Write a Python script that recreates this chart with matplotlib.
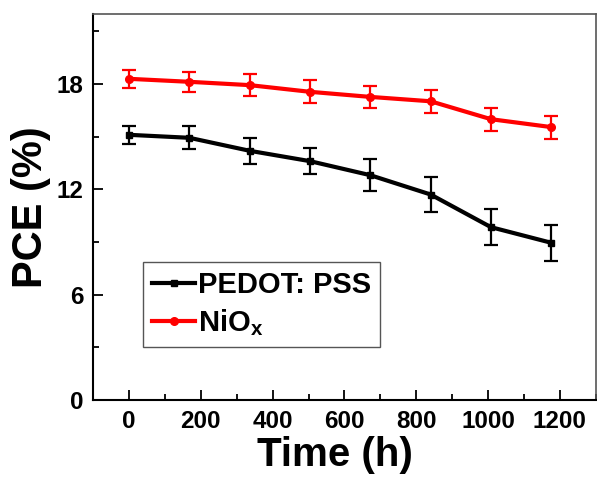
import matplotlib

matplotlib.use("Agg")
import matplotlib.pyplot as plt
from matplotlib.ticker import MultipleLocator

time_h = [0, 168, 336, 504, 672, 840, 1008, 1176]

pedot_pce = [15.11, 14.94, 14.20, 13.61, 12.81, 11.71, 9.85, 8.96]
pedot_err = [0.51, 0.66, 0.73, 0.76, 0.90, 0.99, 1.02, 1.04]

nio_pce = [18.30, 18.13, 17.94, 17.56, 17.27, 17.02, 16.00, 15.55]
nio_err = [0.50, 0.57, 0.64, 0.65, 0.63, 0.66, 0.66, 0.65]

plt.rcParams["font.family"] = ["Liberation Sans", "DejaVu Sans"]
plt.rcParams["font.weight"] = "bold"
plt.rcParams["mathtext.fontset"] = "custom"
plt.rcParams["mathtext.rm"] = "Liberation Sans:bold"
plt.rcParams["mathtext.it"] = "Liberation Sans:bold"
plt.rcParams["mathtext.bf"] = "Liberation Sans:bold"

fig = plt.figure(figsize=(5.97, 4.78), dpi=100)
ax = fig.add_axes([0.156, 0.163, 0.842, 0.808])

ax.errorbar(time_h, pedot_pce, yerr=pedot_err, color="black", linewidth=3,
            marker="s", markersize=5, elinewidth=1.6, capsize=5, capthick=1.6,
            label="PEDOT: PSS")
ax.errorbar(time_h, nio_pce, yerr=nio_err, color="red", linewidth=3,
            marker="o", markersize=5.5, elinewidth=1.6, capsize=5, capthick=1.6,
            label="NiO$_\\mathregular{x}$")

ax.set_xlim(-100, 1300)
ax.set_ylim(0, 22)
ax.xaxis.set_major_locator(MultipleLocator(200))
ax.xaxis.set_minor_locator(MultipleLocator(100))
ax.yaxis.set_major_locator(MultipleLocator(6))
ax.yaxis.set_minor_locator(MultipleLocator(3))

ax.tick_params(which="both", direction="in", top=False, right=False, width=1.3,
               labelsize=17.5, pad=7)
ax.tick_params(which="major", length=7)
ax.tick_params(which="minor", length=4)

for side in ("left", "bottom"):
    ax.spines[side].set_linewidth(1.5)
    ax.spines[side].set_color("black")
for side in ("top", "right"):
    ax.spines[side].set_linewidth(1.2)
    ax.spines[side].set_color("#555555")

ax.set_xlabel("Time (h)", fontsize=29, fontweight="bold", labelpad=2)
ax.xaxis.label.set_x(0.482)
ax.set_ylabel("PCE (%)", fontsize=30, fontweight="bold", labelpad=4)

handles, labels = ax.get_legend_handles_labels()
handles = [h[0] for h in handles]
leg = ax.legend(handles, labels, loc="lower left", bbox_to_anchor=(0.099, 0.137),
                borderaxespad=0, fancybox=False, framealpha=1, edgecolor="#555555",
                prop={"size": 21, "weight": "bold"}, handlelength=1.5,
                handletextpad=0.1, borderpad=0.3, labelspacing=0.3)
leg.get_frame().set_linewidth(1.0)

fig.savefig("out.png", dpi=100)
plt.close(fig)
